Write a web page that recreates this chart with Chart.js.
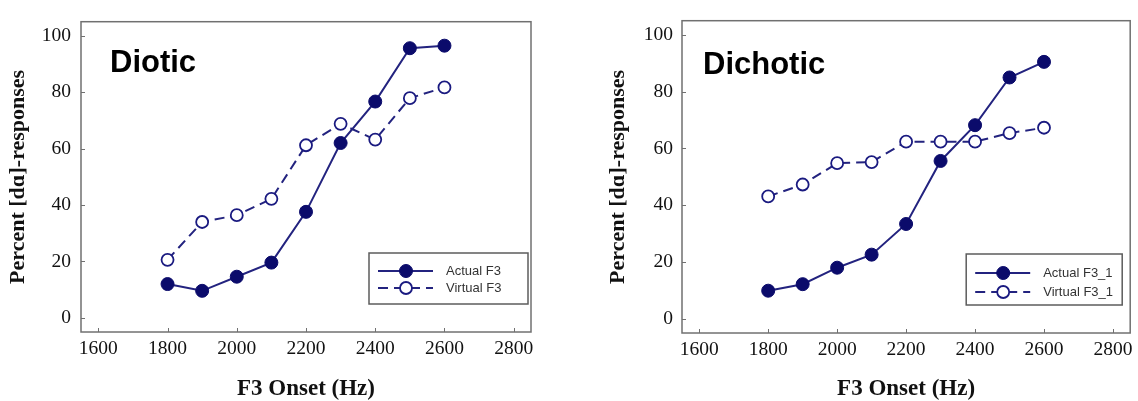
<!DOCTYPE html>
<html>
<head>
<meta charset="utf-8">
<script src="https://cdn.jsdelivr.net/npm/chart.js@4.4.0/dist/chart.umd.min.js"></script>
<style>
  body { margin: 0; background: #fff; }
  #wrap { position: relative; width: 1138px; height: 401px; }
  canvas { position: absolute; top: 0; }
  #diotic { left: 0; }
  #dichotic { left: 569px; }
</style>
</head>
<body>
<div id="wrap">
  <canvas id="diotic" width="569" height="401"></canvas>
  <canvas id="dichotic" width="569" height="401"></canvas>
</div>
<script>
// values
const onsets = [1800, 1900, 2000, 2100, 2200, 2300, 2400, 2500, 2600];
const dioticActual = [12, 9.6, 14.6, 19.6, 37.6, 62, 76.7, 95.6, 96.5];
const dioticVirtual = [20.6, 34, 36.4, 42.2, 61.2, 68.8, 63.2, 77.9, 81.7];
const dichoticActual = [9.9, 12.2, 18, 22.6, 33.4, 55.6, 68.2, 85, 90.5];
const dichoticVirtual = [43.1, 47.3, 54.8, 55.2, 62.4, 62.4, 62.4, 65.4, 67.3];
const xTicks = [1600, 1800, 2000, 2200, 2400, 2600, 2800];
const yTicks = [0, 20, 40, 60, 80, 100];

const navy = '#0b0b6b';
const lineNavy = '#23237f';
const frameGrey = '#707070';

function toPoints(ys) {
    return onsets.map((x, i) => ({ x: x, y: ys[i] }));
}

// frame, inward ticks, panel label and the boxed legend
const framePlugin = {
    id: 'frame',
    afterDraw(chart, args, opts) {
        const ctx = chart.ctx;
        const a = chart.chartArea;
        const xs = chart.scales.x, ys = chart.scales.y;
        ctx.save();
        ctx.strokeStyle = frameGrey;
        ctx.lineWidth = 1.5;
        ctx.strokeRect(a.left, a.top, a.right - a.left, a.bottom - a.top);
        ctx.lineWidth = 1;
        ctx.beginPath();
        xs.ticks.forEach(t => {
            const px = Math.round(xs.getPixelForValue(t.value)) + 0.5;
            ctx.moveTo(px, a.bottom);
            ctx.lineTo(px, a.bottom - 4);
        });
        ys.ticks.forEach(t => {
            const py = Math.round(ys.getPixelForValue(t.value)) + 0.5;
            ctx.moveTo(a.left, py);
            ctx.lineTo(a.left + 4, py);
        });
        ctx.stroke();

        // panel label
        ctx.fillStyle = '#000';
        ctx.font = 'bold 31px "Liberation Sans", Arial, sans-serif';
        ctx.textBaseline = 'alphabetic';
        ctx.textAlign = 'left';
        ctx.fillText(opts.label, a.left + opts.labelX, a.top + opts.labelY);

        // legend
        const bw = opts.boxW, bh = 51;
        const bx = a.right - opts.boxRight - bw;
        const by = a.bottom - 28 - bh;
        ctx.strokeStyle = '#5c5c5c';
        ctx.lineWidth = 1.5;
        ctx.strokeRect(bx, by, bw, bh);
        ctx.font = '13px "Liberation Sans", Arial, sans-serif';
        ctx.textBaseline = 'middle';
        chart.data.datasets.forEach((ds, i) => {
            const ry = by + opts.rows[i];
            ctx.strokeStyle = ds.borderColor;
            ctx.lineWidth = ds.borderWidth;
            ctx.setLineDash(ds.borderDash || []);
            ctx.beginPath();
            ctx.moveTo(bx + 9, ry);
            ctx.lineTo(bx + 64, ry);
            ctx.stroke();
            ctx.setLineDash([]);
            ctx.beginPath();
            ctx.arc(bx + 37, ry, ds.pointRadius, 0, Math.PI * 2);
            ctx.fillStyle = ds.pointBackgroundColor;
            ctx.fill();
            ctx.lineWidth = ds.pointBorderWidth;
            ctx.strokeStyle = ds.pointBorderColor;
            ctx.stroke();
            ctx.fillStyle = '#333';
            ctx.fillText(ds.label, bx + 77, ry);
        });
        ctx.restore();
    }
};

const serif = '"Liberation Serif", "Times New Roman", serif';

function makePanel(id, actual, virtual, names, cfg) {
    const ctx = document.getElementById(id).getContext('2d');
    new Chart(ctx, {
        type: 'line',
        data: {
            datasets: [{
                label: names[0],
                data: toPoints(actual),
                borderColor: lineNavy,
                borderWidth: 2,
                pointRadius: 6.5,
                pointBackgroundColor: navy,
                pointBorderColor: navy,
                pointBorderWidth: 1,
                tension: 0
            }, {
                label: names[1],
                data: toPoints(virtual),
                borderColor: lineNavy,
                borderWidth: 2,
                borderDash: [10, 6],
                pointRadius: 6,
                pointBackgroundColor: '#ffffff',
                pointBorderColor: '#1a1a80',
                pointBorderWidth: 1.8,
                tension: 0
            }]
        },
        options: {
            responsive: false,
            animation: false,
            layout: { padding: { left: 0, right: cfg.padRight, top: cfg.padTop, bottom: 0 } },
            plugins: {
                legend: { display: false },
                tooltip: { enabled: false },
                frame: cfg.frame
            },
            scales: {
                x: {
                    type: 'linear',
                    min: 1550,
                    max: 2850,
                    afterBuildTicks: s => { s.ticks = xTicks.map(v => ({ value: v })); },
                    afterFit: s => { s.height = cfg.xHeight; },
                    grid: { display: false, drawTicks: false, tickLength: 0 },
                    border: { display: false },
                    ticks: {
                        padding: 5,
                        color: '#111',
                        callback: v => String(v),
                        font: { family: serif, size: 19.5 }
                    },
                    title: {
                        display: true,
                        text: 'F3 Onset (Hz)',
                        color: '#111',
                        padding: { top: 0, bottom: 0 },
                        font: { family: serif, size: 23, weight: 'bold', lineHeight: 1 }
                    }
                },
                y: {
                    min: -5,
                    max: 105,
                    afterBuildTicks: s => { s.ticks = yTicks.map(v => ({ value: v })); },
                    afterFit: s => { s.width = cfg.yWidth; },
                    grid: { display: false, drawTicks: false, tickLength: 0 },
                    border: { display: false },
                    ticks: {
                        padding: cfg.yPad,
                        color: '#111',
                        callback: v => String(v),
                        font: { family: serif, size: 19.5 }
                    },
                    title: {
                        display: true,
                        text: 'Percent [dɑ]-responses',
                        color: '#111',
                        padding: { top: cfg.yTitlePad, bottom: 0 },
                        font: { family: serif, size: 22, weight: 'bold', lineHeight: 1 }
                    }
                }
            }
        },
        plugins: [framePlugin]
    });
}

makePanel('diotic', dioticActual, dioticVirtual, ['Actual F3', 'Virtual F3'], {
    padRight: 38, padTop: 17, xHeight: 69, yWidth: 81, yPad: 10, yTitlePad: 7,
    frame: { label: 'Diotic', labelX: 29, labelY: 50, boxW: 159, boxRight: 3, rows: [18, 35] }
});

makePanel('dichotic', dichoticActual, dichoticVirtual, ['Actual F3_1', 'Virtual F3_1'], {
    padRight: 6, padTop: 18, xHeight: 68, yWidth: 113, yPad: 9, yTitlePad: 38,
    frame: { label: 'Dichotic', labelX: 21, labelY: 53, boxW: 156, boxRight: 8, rows: [19, 38] }
});
</script>
</body>
</html>
